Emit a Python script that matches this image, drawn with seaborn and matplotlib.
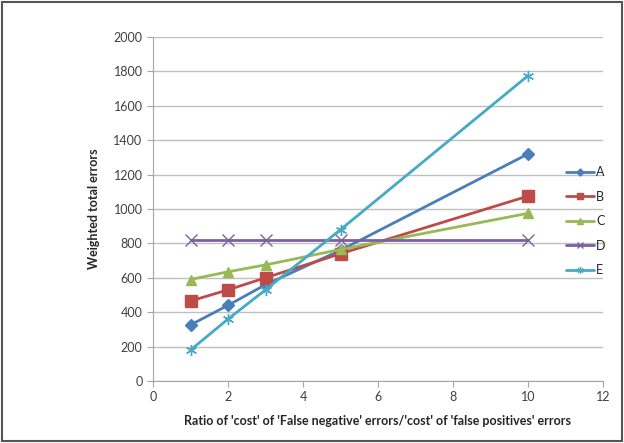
import pandas as pd
import seaborn as sns
import matplotlib.pyplot as plt
from matplotlib.patches import Rectangle

ratio = [1, 2, 3, 5, 10]
series_a = [326, 440, 560, 760, 1320]
series_b = [465, 530, 600, 740, 1075]
series_c = [590, 635, 675, 765, 975]
series_d = [820, 820, 820, 820, 820]
series_e = [180, 360, 530, 880, 1775]
names = ["A", "B", "C", "D", "E"]

rows = []
for name, vals in zip(names, [series_a, series_b, series_c, series_d, series_e]):
    for x, y in zip(ratio, vals):
        rows.append({"ratio": x, "errors": y, "series": name})
df = pd.DataFrame(rows)

sns.set_style("white")
plt.rcParams["font.family"] = ["Lato", "DejaVu Sans"]

palette = {"A": "#4A7EBB", "B": "#BE4B48", "C": "#98B954", "D": "#7D60A0", "E": "#46AAC5"}
markers = {"A": "D", "B": "s", "C": "^", "D": "x", "E": (6, 2, 0)}
sizes = {"A": 6, "B": 8, "C": 7, "D": 8, "E": 8}

fig = plt.figure(figsize=(6.24, 4.43), dpi=100)
ax = fig.add_axes([153 / 624, 1 - 381 / 443, 450 / 624, 344 / 443])

for name in names:
    sns.lineplot(
        data=df[df["series"] == name],
        x="ratio", y="errors",
        color=palette[name], marker=markers[name], markersize=sizes[name],
        markeredgecolor=palette[name], markeredgewidth=1.0,
        linewidth=2, label=name, ax=ax,
    )

ax.set_xlim(0, 12)
ax.set_ylim(0, 2000)
ax.set_xticks(range(0, 13, 2))
ax.set_yticks(range(0, 2001, 200))
ax.yaxis.grid(True, color="#BFBFBF", linewidth=1)
ax.set_axisbelow(True)
for s in ["top", "right"]:
    ax.spines[s].set_visible(False)
for s in ["left", "bottom"]:
    ax.spines[s].set_color("#A6A6A6")
ax.tick_params(axis="both", labelsize=9, colors="#404040", length=4, direction="out",
               bottom=True, left=True)
ax.tick_params(axis="both", color="#A6A6A6")

ax.set_xlabel("Ratio of 'cost' of 'False negative' errors/'cost' of 'false positives' errors",
              fontsize=9, fontweight="bold", labelpad=8)
ax.set_ylabel("Weighted total errors", fontsize=9, fontweight="bold", labelpad=10)

ax.legend(loc="center left", bbox_to_anchor=(0.893, 0.465), frameon=False, fontsize=9,
          handlelength=2.2, labelspacing=1.0, handletextpad=0.2, markerscale=0.6)

fig.patches.append(Rectangle((0.003, 0.004), 0.994, 0.992, transform=fig.transFigure,
                             fill=False, edgecolor="#555555", linewidth=1.5))

plt.savefig("out.png", dpi=100)
plt.close()
